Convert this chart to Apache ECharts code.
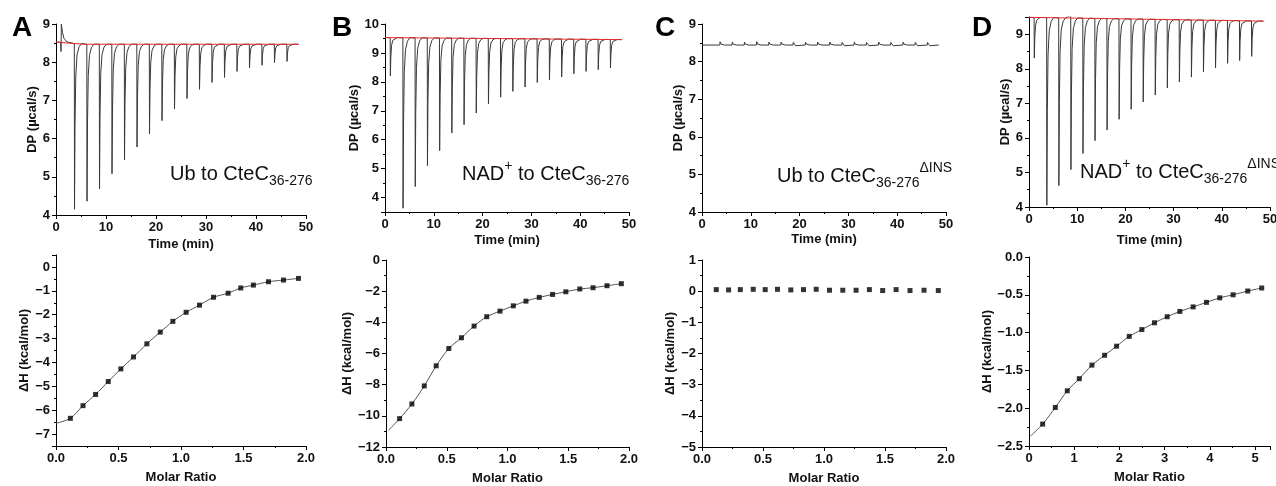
<!DOCTYPE html>
<html>
<head>
<meta charset="utf-8">
<script src="https://cdn.jsdelivr.net/npm/echarts@6/dist/echarts.min.js"></script>
<style>
    html, body { margin: 0; padding: 0; background: #fff; }
    #chart { width: 1276px; height: 486px; }
</style>
</head>
<body>
<div id="chart"></div>
<script>
// ---- data ----
// injection times (min); the first one is the small pre-injection
const injTimes = [1.1, 3.7, 6.2, 8.7, 11.2, 13.7, 16.2, 18.7, 21.2, 23.7, 26.2, 28.7, 31.2, 33.7, 36.2, 38.7, 41.2, 43.7, 46.2];

// raw thermograms: peak extreme of DP (µcal/s) at each injection
const peakA = [null, 4.15, 4.36, 4.68, 5.08, 5.44, 5.78, 6.12, 6.47, 6.78, 7.05, 7.29, 7.47, 7.60, 7.76, 7.85, 7.92, 7.99, 8.02];
const peakB = [8.21, 3.63, 4.38, 5.10, 5.62, 6.23, 6.52, 6.92, 7.24, 7.47, 7.67, 7.82, 7.98, 8.07, 8.17, 8.28, 8.36, 8.42, 8.48];
const peakC = [null, 8.53, 8.52, 8.52, 8.53, 8.52, 8.52, 8.51, 8.52, 8.52, 8.52, 8.51, 8.52, 8.51, 8.52, 8.51, 8.52, 8.51, 8.51];
const peakD = [8.31, 4.05, 4.62, 5.08, 5.55, 5.92, 6.23, 6.54, 6.83, 7.04, 7.24, 7.45, 7.62, 7.76, 7.91, 8.03, 8.16, 8.24, 8.36];

// baselines (red lines in A, B, D)
const baseA = [[0, 8.53], [2.5, 8.50], [5.5, 8.47], [48.5, 8.47]];
const baseB = [[0, 9.53], [48.5, 9.46]];
const baseC = [[0, 8.44], [48.5, 8.44]];
const baseD = [[0, 9.49], [48.8, 9.38]];

// odd bits of the traces
const glitchA = [[0.95, 8.52], [1.0, 8.28], [1.07, 9.0], [1.3, 8.78], [1.6, 8.62], [2.2, 8.53]];
const glitchD = [[8.62, 9.55]];

// typical peak profile: [time offset (min), fraction of peak height]
const peakShape = [[-0.04, 0], [0, 1], [0.1, 0.5], [0.25, 0.2], [0.5, 0.07], [0.9, 0.02], [1.4, 0]];
const blipShape = [[-0.04, 0], [0, 1], [0.2, 0.3], [0.5, -0.25], [0.9, 0]];

// integrated heats
const ratioA = [0.115, 0.216, 0.317, 0.418, 0.519, 0.620, 0.727, 0.834, 0.935, 1.041, 1.148, 1.260, 1.377, 1.478, 1.579, 1.70, 1.82, 1.94];
const dhA = [-6.34, -5.81, -5.34, -4.80, -4.27, -3.77, -3.22, -2.73, -2.28, -1.90, -1.60, -1.27, -1.10, -0.88, -0.76, -0.62, -0.55, -0.48];
const ratioB = [0.112, 0.213, 0.315, 0.413, 0.517, 0.621, 0.725, 0.829, 0.938, 1.048, 1.152, 1.261, 1.371, 1.480, 1.595, 1.704, 1.819, 1.937];
const dhB = [-10.18, -9.24, -8.08, -6.79, -5.68, -4.99, -4.24, -3.64, -3.28, -2.94, -2.64, -2.40, -2.21, -2.04, -1.86, -1.78, -1.65, -1.52];
const ratioC = [0.117, 0.218, 0.314, 0.420, 0.518, 0.619, 0.728, 0.832, 0.936, 1.045, 1.154, 1.263, 1.372, 1.481, 1.591, 1.705, 1.820, 1.937];
const dhC = [0.05, 0.04, 0.05, 0.06, 0.05, 0.06, 0.04, 0.05, 0.06, 0.03, 0.03, 0.03, 0.05, 0.02, 0.05, 0.02, 0.03, 0.02];
const ratioD = [0.302, 0.582, 0.847, 1.112, 1.392, 1.672, 1.937, 2.217, 2.496, 2.776, 3.056, 3.336, 3.630, 3.925, 4.219, 4.514, 4.838, 5.147];
const dhD = [-2.21, -1.99, -1.77, -1.61, -1.43, -1.30, -1.18, -1.05, -0.96, -0.87, -0.79, -0.72, -0.66, -0.60, -0.54, -0.50, -0.45, -0.41];
// where the fitted curves start
const fitStartA = [0, -6.55];
const fitStartB = [0.02, -10.93];
const fitStartD = [0.03, -2.37];

// ---- helpers ----
const FONT = '"Liberation Sans", Arial, sans-serif';

function baseAt(base, t) {
    if (t <= base[0][0]) return base[0][1];
    for (let i = 1; i < base.length; i++) {
        if (t <= base[i][0]) {
            const [t0, v0] = base[i - 1], [t1, v1] = base[i];
            return v0 + (v1 - v0) * (t - t0) / (t1 - t0);
        }
    }
    return base[base.length - 1][1];
}

function buildTrace(base, peaks, shape, extra, span) {
    const pts = [[span[0], baseAt(base, span[0])]];
    injTimes.forEach((t, i) => {
        if (peaks[i] == null) return;
        const b = baseAt(base, t);
        shape.forEach(([dt, f]) => pts.push([t + dt, b - f * (b - peaks[i])]));
    });
    extra.forEach(p => pts.push(p));
    pts.push([span[1], baseAt(base, span[1])]);
    return pts.sort((a, b) => a[0] - b[0]);
}

function fmt(step, dec) {
    return v => {
        if (Math.abs(v / step - Math.round(v / step)) > 1e-6) return '';
        const s = Math.abs(v).toFixed(dec);
        return v < -1e-9 ? '\u2212' + s : s;
    };
}

const grids = [
    { left: 56, top: 24, width: 250, height: 191 },
    { left: 385, top: 24, width: 244, height: 188 },
    { left: 702, top: 24, width: 244, height: 188 },
    { left: 1029, top: 17, width: 241, height: 190 },
    { left: 56, top: 255, width: 250, height: 191 },
    { left: 386, top: 260, width: 243, height: 187 },
    { left: 702, top: 260, width: 244, height: 187 },
    { left: 1029, top: 257, width: 241, height: 189 }
];

function axisCommon(name, gap, formatter) {
    return {
        name: name,
        nameLocation: 'middle',
        nameGap: gap,
        nameTextStyle: { fontFamily: FONT, fontWeight: 'bold', fontSize: 13, color: '#111' },
        axisLine: { onZero: false, lineStyle: { color: '#000', width: 1 } },
        axisTick: { length: 4, lineStyle: { color: '#000' } },
        minorTick: { show: true, splitNumber: 2, length: 2, lineStyle: { color: '#000' } },
        splitLine: { show: false },
        axisLabel: { fontFamily: FONT, fontWeight: 'bold', fontSize: 13, color: '#111', margin: 6, formatter: formatter }
    };
}

function xAxis(gi, min, max, interval, name, gap, formatter) {
    return Object.assign(axisCommon(name, gap, formatter), { gridIndex: gi, type: 'value', min, max, interval });
}
function yAxis(gi, min, max, interval, name, gap, formatter, split) {
    const ax = Object.assign(axisCommon(name, gap, formatter), { gridIndex: gi, type: 'value', min, max });
    if (interval) ax.interval = interval; else ax.splitNumber = split;
    return ax;
}

const dp = 'DP (\u00b5cal/s)';
const dh = '\u0394H (kcal/mol)';

const xAxes = [
    xAxis(0, 0, 50, 10, 'Time (min)', 23, fmt(10, 0)),
    xAxis(1, 0, 50, 10, 'Time (min)', 22, fmt(10, 0)),
    xAxis(2, 0, 50, 10, 'Time (min)', 21, fmt(10, 0)),
    xAxis(3, 0, 50, 10, 'Time (min)', 27, fmt(10, 0)),
    xAxis(4, 0, 2, 0.5, 'Molar Ratio', 25, fmt(0.5, 1)),
    xAxis(5, 0, 2, 0.5, 'Molar Ratio', 25, fmt(0.5, 1)),
    xAxis(6, 0, 2, 0.5, 'Molar Ratio', 25, fmt(0.5, 1)),
    xAxis(7, 0, 5.33, 1, 'Molar Ratio', 25, fmt(1, 0))
];
const yAxes = [
    yAxis(0, 4, 9, 1, dp, 15, fmt(1, 0)),
    yAxis(1, 3.5, 10, null, dp, 22, fmt(1, 0), 7),
    yAxis(2, 4, 9, 1, dp, 15, fmt(1, 0)),
    yAxis(3, 4, 9.5, null, dp, 16, fmt(1, 0), 5),
    yAxis(4, -7.5, 0.5, null, dh, 23, fmt(1, 0), 8),
    yAxis(5, -12, 0, 2, dh, 27, fmt(2, 0)),
    yAxis(6, -5, 1, 1, dh, 22, fmt(1, 0)),
    yAxis(7, -2.5, 0, 0.5, dh, 29, fmt(0.5, 1))
];

const TRACE = '#383838';
const RED = '#e8282b';

function traceSeries(gi, data) {
    return { type: 'line', xAxisIndex: gi, yAxisIndex: gi, data, showSymbol: false, silent: true,
             lineStyle: { color: TRACE, width: 1 }, z: 2 };
}
function baseSeries(gi, data) {
    return { type: 'line', xAxisIndex: gi, yAxisIndex: gi, data, showSymbol: false, silent: true,
             lineStyle: { color: RED, width: 1 }, z: 3 };
}
function pointSeries(gi, xs, ys) {
    return { type: 'scatter', xAxisIndex: gi, yAxisIndex: gi, data: xs.map((x, i) => [x, ys[i]]),
             symbol: 'rect', symbolSize: 5, itemStyle: { color: '#000' }, z: 4 };
}
function fitSeries(gi, start, xs, ys) {
    return { type: 'line', xAxisIndex: gi, yAxisIndex: gi, data: [start].concat(xs.map((x, i) => [x, ys[i]])),
             showSymbol: false, smooth: 0.3, silent: true, lineStyle: { color: '#555', width: 1 }, z: 3 };
}

const series = [
    traceSeries(0, buildTrace(baseA, peakA, peakShape, glitchA, [0.3, 48.5])),
    baseSeries(0, baseA),
    traceSeries(1, buildTrace(baseB, peakB, peakShape, [], [0.3, 48.5])),
    baseSeries(1, baseB),
    traceSeries(2, buildTrace(baseC, peakC, blipShape, [], [0.1, 48.5])),
    traceSeries(3, buildTrace(baseD, peakD, peakShape, glitchD, [0.2, 48.5])),
    baseSeries(3, baseD),
    fitSeries(4, fitStartA, ratioA, dhA),
    pointSeries(4, ratioA, dhA),
    fitSeries(5, fitStartB, ratioB, dhB),
    pointSeries(5, ratioB, dhB),
    pointSeries(6, ratioC, dhC),
    fitSeries(7, fitStartD, ratioD, dhD),
    pointSeries(7, ratioD, dhD)
];

// ---- annotation text with sub/superscripts ----
const measureCtx = document.createElement('canvas').getContext('2d');
function textWidth(t, size) {
    measureCtx.font = size + 'px ' + FONT;
    return measureCtx.measureText(t).width;
}
function annotation(x, y, parts) {
    const els = [];
    let cx = x;
    parts.forEach(([t, kind]) => {
        const size = kind ? 14 : 20;
        const dy = kind === 'sub' ? 7 : kind === 'sup' ? -8 : 0;
        els.push({ type: 'text', x: cx, y: y + dy, silent: true,
                   style: { text: t, fontFamily: FONT, fontSize: size, fill: '#111', verticalAlign: 'middle', align: 'left' } });
        cx += textWidth(t, size);
    });
    return els;
}
function letter(x, t) {
    return { type: 'text', x: x, y: 28, silent: true,
             style: { text: t, fontFamily: FONT, fontWeight: 'bold', fontSize: 28, fill: '#000', align: 'center', verticalAlign: 'middle' } };
}

const graphics = [].concat(
    annotation(170, 174, [['Ub to CteC'], ['36-276', 'sub']]),
    annotation(462, 174, [['NAD'], ['+', 'sup'], [' to CteC'], ['36-276', 'sub']]),
    annotation(777, 176, [['Ub to CteC'], ['36-276', 'sub'], ['\u0394INS', 'sup']]),
    annotation(1080, 172, [['NAD'], ['+', 'sup'], [' to CteC'], ['36-276', 'sub'], ['\u0394INS', 'sup']]),
    [letter(22, 'A'), letter(342, 'B'), letter(665, 'C'), letter(982, 'D')]
);

const chart = echarts.init(document.getElementById('chart'), null, { renderer: 'canvas' });
chart.setOption({
    animation: false,
    backgroundColor: '#fff',
    grid: grids.map(g => Object.assign({ containLabel: false, outerBoundsMode: 'none' }, g)),
    xAxis: xAxes,
    yAxis: yAxes,
    series: series,
    graphic: graphics
});
</script>
</body>
</html>
